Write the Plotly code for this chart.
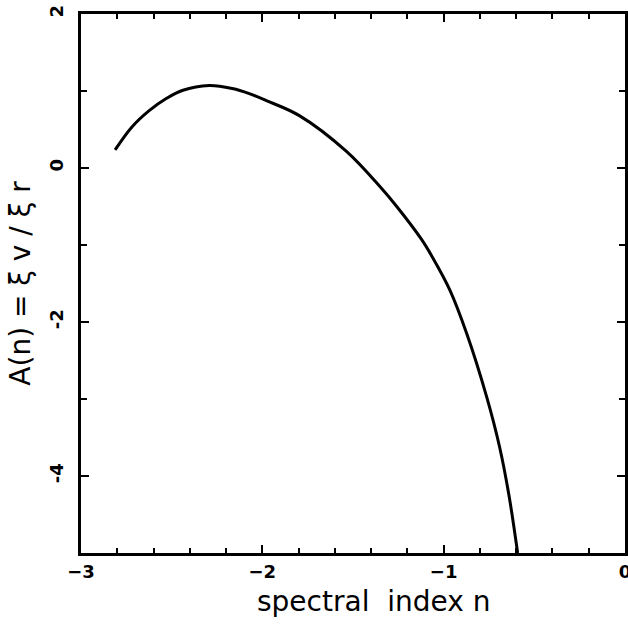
import plotly.graph_objects as go

# data
n_vals = [-2.812, -2.718, -2.624, -2.530, -2.442, -2.293, -2.166, -2.072,
          -1.978, -1.796, -1.536, -1.354, -1.260, -1.122, -1.061,
          -0.967, -0.873, -0.762, -0.691, -0.640, -0.592]
a_vals = [0.235, 0.536, 0.745, 0.902, 1.007, 1.072, 1.033, 0.967,
          0.876, 0.680, 0.215, -0.235, -0.497, -0.928, -1.163,
          -1.580, -2.150, -2.980, -3.630, -4.250, -5.0]

x_ticks = [-3, -2, -1, 0]
y_ticks = [-4, -2, 0, 2]
x_title = "spectral  index n"
y_title = "A(n) = ξ v / ξ r"

fig = go.Figure()
fig.add_trace(go.Scatter(x=n_vals, y=a_vals, mode="lines",
                         line=dict(color="black", width=3, shape="spline", smoothing=1.0),
                         showlegend=False, cliponaxis=True))

tickfont = dict(size=18, family="DejaVu Sans", color="black", weight="bold")

fig.update_layout(
    width=628, height=625,
    margin=dict(l=81, r=3, t=14, b=72),
    paper_bgcolor="white", plot_bgcolor="white",
    font=dict(family="DejaVu Sans, Arial, sans-serif", color="black"),
    xaxis=dict(range=[-3, 0], tickvals=x_ticks, ticktext=["−3", "−2", "−1", "0"],
               ticks="inside", ticklen=8, tickwidth=2, tickcolor="black",
               minor=dict(dtick=0.2, ticks="inside", ticklen=5, tickwidth=2, tickcolor="black"),
               showline=True, linewidth=2.5, linecolor="black", mirror="allticks",
               showgrid=False, zeroline=False, automargin=False,
               ticklabeloverflow="allow",
               tickfont=tickfont, ticklabelstandoff=1),
    yaxis=dict(range=[-5, 2], tickvals=y_ticks, ticktext=["-4", "-2", "0", "2"],
               ticks="inside", ticklen=8, tickwidth=2, tickcolor="black",
               minor=dict(dtick=1, ticks="inside", ticklen=6, tickwidth=2, tickcolor="black"),
               showline=True, linewidth=2.5, linecolor="black", mirror="allticks",
               showgrid=False, zeroline=False, tickangle=-90, automargin=False,
               tickfont=tickfont, ticklabelstandoff=8,
               title=dict(text=y_title, font=dict(size=28, color="black"), standoff=8)),
    annotations=[dict(text=x_title, xref="paper", yref="paper", x=0.537, y=-0.09,
                      xanchor="center", yanchor="middle", showarrow=False,
                      font=dict(size=28, color="black"))],
)

fig.write_html("out.html", config={"displayModeBar": False},
               post_script="document.body.style.margin='0';"
                           "document.documentElement.style.overflow='hidden';"
                           "document.body.style.overflow='hidden';")
